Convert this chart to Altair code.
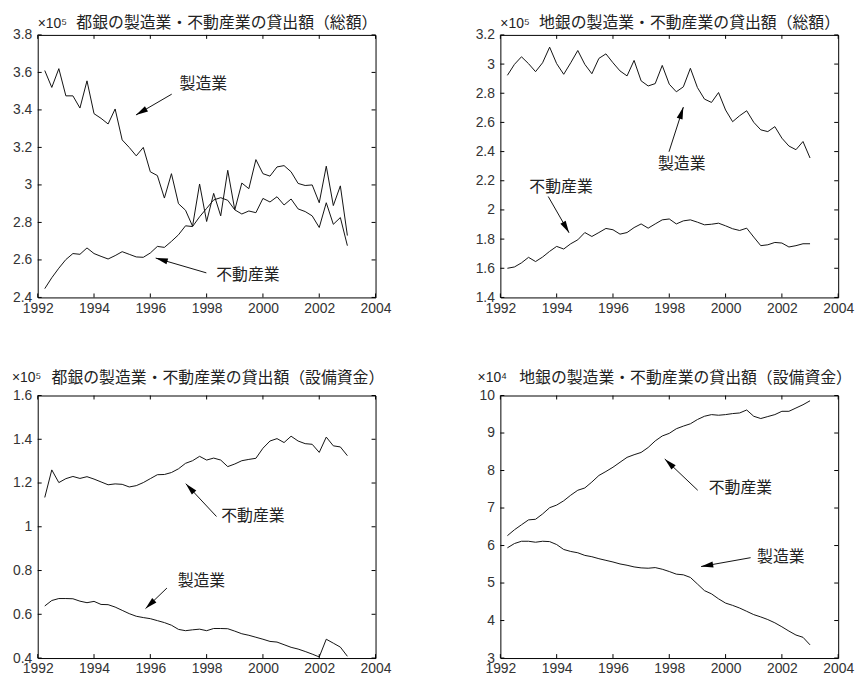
import math
import altair as alt
import pandas as pd

# ---------------- data ----------------
quarters = [1992.25 + 0.25 * i for i in range(44)]

# 都銀 総額 (x10^5)
toshi_total_mfg = [3.61, 3.52, 3.62, 3.475, 3.475, 3.41, 3.555, 3.38, 3.355, 3.325,
                   3.405, 3.24, 3.20, 3.155, 3.20, 3.07, 3.05, 2.93, 3.06, 2.90,
                   2.865, 2.78, 3.005, 2.805, 2.955, 2.835, 3.078, 2.867, 3.01, 2.98,
                   3.135, 3.06, 3.047, 3.096, 3.103, 3.07, 3.008, 2.997, 3.0, 2.905,
                   3.1, 2.89, 2.995, 2.73]
toshi_total_re = [2.447, 2.505, 2.556, 2.602, 2.634, 2.630, 2.664, 2.634, 2.619, 2.605,
                  2.623, 2.644, 2.630, 2.616, 2.614, 2.637, 2.672, 2.667, 2.699, 2.734,
                  2.782, 2.778, 2.83, 2.875, 2.92, 2.932, 2.918, 2.867, 2.845, 2.861,
                  2.852, 2.928, 2.909, 2.937, 2.893, 2.925, 2.872, 2.858, 2.835, 2.773,
                  2.905, 2.79, 2.826, 2.676]

# 地銀 総額 (x10^5)
chigin_total_mfg = [2.923, 2.998, 3.05, 3.003, 2.948, 3.009, 3.116, 3.003, 2.93, 3.009,
                    3.093, 2.998, 2.934, 3.039, 3.07, 3.009, 2.953, 2.919, 3.025, 2.885,
                    2.85, 2.866, 2.991, 2.862, 2.810, 2.844, 2.971, 2.839, 2.760, 2.737,
                    2.805, 2.685, 2.605, 2.646, 2.680, 2.601, 2.549, 2.537, 2.571, 2.492,
                    2.438, 2.413, 2.469, 2.356]
chigin_total_re = [1.60, 1.609, 1.637, 1.675, 1.646, 1.677, 1.716, 1.75, 1.732, 1.768,
                   1.795, 1.845, 1.818, 1.845, 1.873, 1.864, 1.834, 1.845, 1.879, 1.904,
                   1.875, 1.904, 1.932, 1.938, 1.904, 1.925, 1.932, 1.916, 1.898, 1.902,
                   1.909, 1.891, 1.871, 1.859, 1.875, 1.814, 1.755, 1.761, 1.777, 1.773,
                   1.746, 1.755, 1.768, 1.768]

# 都銀 設備資金 (x10^5)
toshi_cap_re = [1.134, 1.26, 1.202, 1.22, 1.23, 1.221, 1.229, 1.218, 1.205, 1.192,
                1.196, 1.194, 1.182, 1.188, 1.202, 1.22, 1.238, 1.239, 1.248, 1.265,
                1.29, 1.302, 1.322, 1.305, 1.314, 1.305, 1.275, 1.287, 1.302, 1.308,
                1.313, 1.359, 1.392, 1.403, 1.385, 1.414, 1.392, 1.38, 1.377, 1.34,
                1.41, 1.37, 1.365, 1.325]
toshi_cap_mfg = [0.638, 0.663, 0.672, 0.672, 0.671, 0.66, 0.653, 0.659, 0.645, 0.644,
                 0.633, 0.618, 0.603, 0.591, 0.585, 0.58, 0.571, 0.562, 0.55, 0.531,
                 0.525, 0.529, 0.532, 0.525, 0.535, 0.535, 0.534, 0.523, 0.511, 0.504,
                 0.495, 0.486, 0.476, 0.473, 0.461, 0.449, 0.441, 0.43, 0.418, 0.405,
                 0.486, 0.468, 0.45, 0.408]

# 地銀 設備資金 (x10^4)
chigin_cap_re = [6.263, 6.42, 6.553, 6.684, 6.70, 6.842, 7.009, 7.079, 7.193, 7.342,
                 7.474, 7.535, 7.693, 7.868, 7.974, 8.088, 8.22, 8.351, 8.421, 8.482,
                 8.614, 8.789, 8.921, 8.991, 9.114, 9.184, 9.246, 9.36, 9.447, 9.491,
                 9.474, 9.491, 9.518, 9.535, 9.614, 9.447, 9.386, 9.439, 9.491, 9.579,
                 9.579, 9.667, 9.754, 9.86]
chigin_cap_mfg = [5.939, 6.053, 6.114, 6.114, 6.088, 6.114, 6.105, 6.026, 5.895, 5.842,
                  5.807, 5.737, 5.702, 5.649, 5.605, 5.561, 5.509, 5.474, 5.43, 5.404,
                  5.395, 5.412, 5.368, 5.307, 5.237, 5.219, 5.149, 4.974, 4.798, 4.711,
                  4.579, 4.465, 4.404, 4.333, 4.246, 4.158, 4.096, 4.026, 3.939, 3.833,
                  3.719, 3.614, 3.553, 3.351]

x_ticks = [1992, 1994, 1996, 1998, 2000, 2002, 2004]
y_ticks_1 = [2.4, 2.6, 2.8, 3.0, 3.2, 3.4, 3.6, 3.8]
y_ticks_2 = [1.4, 1.6, 1.8, 2.0, 2.2, 2.4, 2.6, 2.8, 3.0, 3.2]
y_ticks_3 = [0.4, 0.6, 0.8, 1.0, 1.2, 1.4, 1.6]
y_ticks_4 = [3, 4, 5, 6, 7, 8, 9, 10]

titles = ["都銀の製造業・不動産業の貸出額（総額）",
          "地銀の製造業・不動産業の貸出額（総額）",
          "都銀の製造業・不動産業の貸出額（設備資金）",
          "地銀の製造業・不動産業の貸出額（設備資金）"]
exponents = ["×10⁵", "×10⁵", "×10⁵", "×10⁴"]

# annotations: label, text-left x, text-centre y, arrow tail (x, y), arrow tip (x, y)
notes_1 = [("製造業", 1997.04, 3.537, 1996.76, 3.484, 1995.49, 3.373),
           ("不動産業", 1998.34, 2.521, 1997.99, 2.531, 1996.19, 2.610)]
notes_2 = [("製造業", 1997.60, 2.314, 1997.99, 2.399, 1998.50, 2.705),
           ("不動産業", 1993.03, 2.157, 1993.70, 2.092, 1994.44, 1.843)]
notes_3 = [("不動産業", 1998.52, 1.048, 1998.35, 1.047, 1997.26, 1.197),
           ("製造業", 1996.97, 0.751, 1996.59, 0.720, 1995.83, 0.626)]
notes_4 = [("不動産業", 1999.40, 7.545, 1999.01, 7.474, 1997.84, 8.308),
           ("製造業", 2001.12, 5.700, 2000.89, 5.676, 1999.13, 5.440)]

W, H = 341, 265
JP = "Noto Sans CJK JP"
NUM = "Liberation Sans"
INK = "#222222"


def panel(title, expo, mfg, re_, ydom, yticks, notes, fmt,
          title_dx, title_off, exp_dx, exp_dy):
    lines = pd.DataFrame({
        "x": quarters * 2,
        "v": mfg + re_,
        "s": ["製造業"] * len(mfg) + ["不動産業"] * len(re_),
    })
    xs = alt.Scale(domain=[1992, 2004], nice=False, zero=False)
    ys = alt.Scale(domain=ydom, nice=False, zero=False)
    xax = alt.Axis(values=x_ticks, format="d", title=None, labelFlush=False,
                   labelOverlap=False, labelPadding=4, grid=False, ticks=False,
                   domain=False, labelFont=NUM, labelFontSize=14,
                   labelColor="#333333")
    yax = alt.Axis(values=yticks, format=fmt, title=None, labelFlush=False,
                   labelOverlap=False, labelPadding=6, grid=False, ticks=False,
                   domain=False, labelFont=NUM, labelFontSize=14,
                   labelColor="#333333")
    X = alt.X("x:Q", scale=xs, axis=xax)
    Y = alt.Y("v:Q", scale=ys, axis=yax)

    base_line = alt.Chart(lines).mark_line(color="#111111", strokeWidth=1).encode(
        x=X, y=Y, detail="s:N")

    xt = pd.DataFrame({"x": x_ticks})
    yt = pd.DataFrame({"v": yticks})
    tick_top = alt.Chart(xt).mark_rule(color="#000", strokeWidth=1).encode(
        x=X, y=alt.value(0), y2=alt.value(4))
    tick_bot = alt.Chart(xt).mark_rule(color="#000", strokeWidth=1).encode(
        x=X, y=alt.value(H), y2=alt.value(H - 4))
    tick_left = alt.Chart(yt).mark_rule(color="#000", strokeWidth=1).encode(
        y=Y, x=alt.value(0), x2=alt.value(4))
    tick_right = alt.Chart(yt).mark_rule(color="#000", strokeWidth=1).encode(
        y=Y, x=alt.value(W - 4), x2=alt.value(W))

    ppx = W / 12.0
    ppy = H / (ydom[1] - ydom[0])
    rows = []
    for lab, tx, ty, ax1, ay1, ax2, ay2 in notes:
        dx = (ax2 - ax1) * ppx
        dy = -(ay2 - ay1) * ppy
        ang = math.degrees(math.atan2(dx, -dy)) % 360
        rows.append({"lab": lab, "tx": tx, "ty": ty, "x": ax1, "v": ay1,
                     "x2": ax2, "v2": ay2, "ang": ang})
    nd = pd.DataFrame(rows)
    texts = alt.Chart(nd).mark_text(font=JP, fontSize=16, align="left",
                                    baseline="middle", color=INK).encode(
        x=alt.X("tx:Q", scale=xs, axis=xax), y=alt.Y("ty:Q", scale=ys, axis=yax),
        text="lab:N")
    shafts = alt.Chart(nd).mark_rule(color="#111", strokeWidth=1).encode(
        x=X, y=Y, x2="x2:Q", y2="v2:Q")
    heads = alt.Chart(nd).mark_point(
        shape="M0,0 L0.5,2 L-0.5,2 Z", filled=True, color="#000",
        opacity=1, size=150, strokeWidth=0).encode(
        x=alt.X("x2:Q", scale=xs, axis=xax), y=alt.Y("v2:Q", scale=ys, axis=yax),
        angle=alt.Angle("ang:Q", scale=None))

    ed = pd.DataFrame({"e": [expo]})
    expo_t = alt.Chart(ed).mark_text(font=NUM, fontSize=14, align="left",
                                     baseline="alphabetic", color=INK).encode(
        text="e:N", x=alt.value(exp_dx), y=alt.value(exp_dy))
    td = pd.DataFrame({"t": [title]})
    title_t = alt.Chart(td).mark_text(font=JP, fontSize=16, align="left",
                                      baseline="alphabetic", color=INK).encode(
        text="t:N", x=alt.value(title_dx), y=alt.value(-title_off))

    return alt.layer(base_line, tick_top, tick_bot, tick_left, tick_right,
                     shafts, heads, texts, expo_t, title_t).properties(
        width=W, height=H)


p1 = panel(titles[0], exponents[0], toshi_total_mfg, toshi_total_re, [2.4, 3.8],
           y_ticks_1, notes_1, ".1~f", 39, 7, 0, -7)
p2 = panel(titles[1], exponents[1], chigin_total_mfg, chigin_total_re, [1.4, 3.2],
           y_ticks_2, notes_2, ".1~f", 39, 7, 0, -7)
p3 = panel(titles[2], exponents[2], toshi_cap_mfg, toshi_cap_re, [0.4, 1.6],
           y_ticks_3, notes_3, ".1~f", 14, 13, -26, -14)
p4 = panel(titles[3], exponents[3], chigin_cap_mfg, chigin_cap_re, [3, 10],
           y_ticks_4, notes_4, "d", 19, 13, -23, -14)

chart = alt.concat(p1, p2, p3, p4, columns=2,
                   spacing={"row": 99, "column": 126},
                   bounds="flush").properties(
    padding={"left": 3, "top": 3, "right": 3, "bottom": 0}
).configure(background="white").configure_view(stroke="#000", strokeWidth=1)

chart.save("out.html", embed_options={"renderer": "svg", "actions": False})
